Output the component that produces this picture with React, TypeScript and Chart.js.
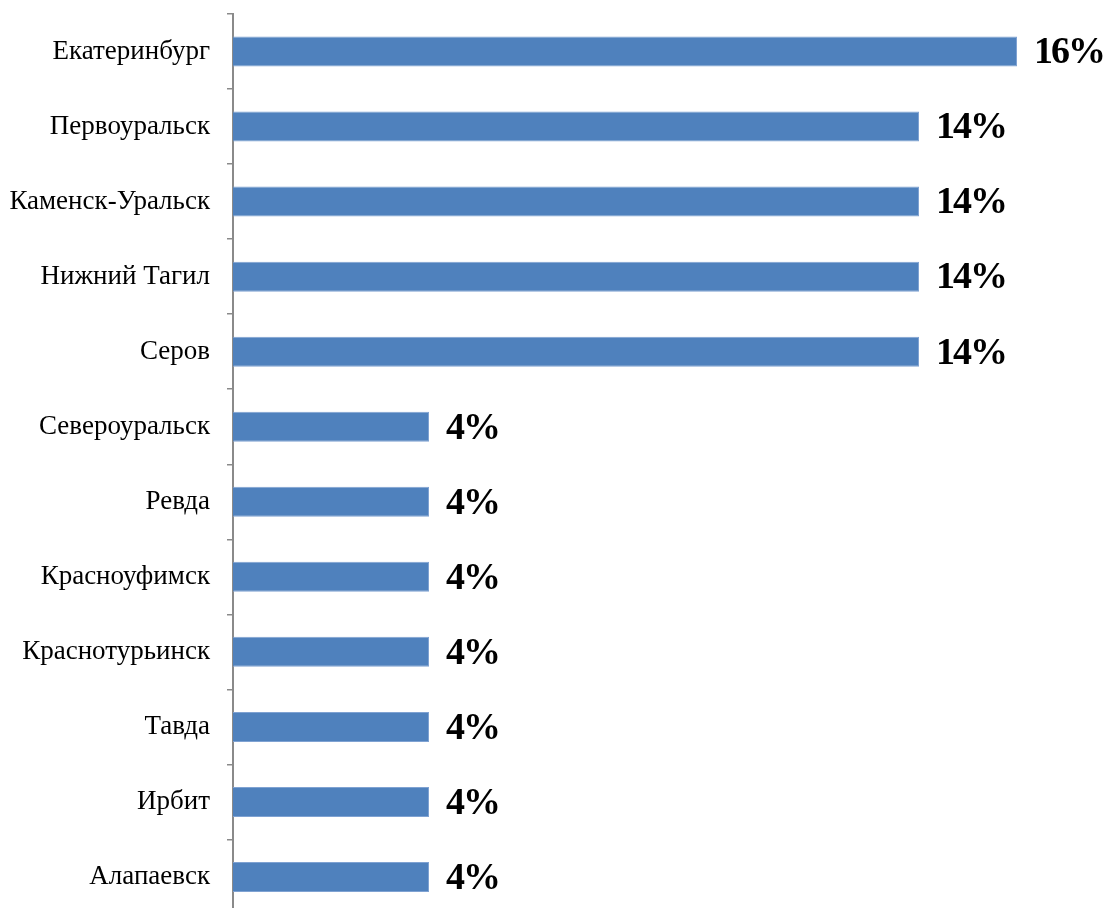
import React, { useEffect, useRef } from "react";
import { Chart, registerables } from "chart.js";

Chart.register(...registerables);

const categories = [
  "Екатеринбург",
  "Первоуральск",
  "Каменск-Уральск",
  "Нижний Тагил",
  "Серов",
  "Североуральск",
  "Ревда",
  "Красноуфимск",
  "Краснотурьинск",
  "Тавда",
  "Ирбит",
  "Алапаевск",
];
const values = [16, 14, 14, 14, 14, 4, 4, 4, 4, 4, 4, 4];

const labelPlugin = {
  id: "barValueLabels",
  afterDatasetsDraw(chart: any) {
    const ctx = chart.ctx;
    const meta = chart.getDatasetMeta(0);
    ctx.save();
    ctx.font = "bold 38px 'Liberation Serif', 'Times New Roman', serif";
    try {
      (ctx as any).letterSpacing = "-2px";
    } catch (e) {}
    ctx.fillStyle = "#000000";
    ctx.textAlign = "left";
    ctx.textBaseline = "middle";
    meta.data.forEach((bar: any, i: number) => {
      ctx.fillText(values[i] + "%", bar.x + 17, bar.y + 2);
    });
    ctx.restore();
  },
};

export default function App() {
  const ref = useRef<HTMLCanvasElement | null>(null);
  useEffect(() => {
    if (!ref.current) return;
    const chart = new Chart(ref.current, {
      type: "bar",
      data: {
        labels: categories,
        datasets: [
          {
            data: values,
            backgroundColor: "#4F81BD",
            borderColor: "#7FA2D2",
            borderWidth: 1,
            categoryPercentage: 1,
            barPercentage: 0.4,
          },
        ],
      },
      options: {
        indexAxis: "y",
        animation: false,
        responsive: false,
        maintainAspectRatio: false,
        layout: { padding: { top: 14, bottom: 5.5, right: 20.5, left: 0 } },
        plugins: {
          legend: { display: false },
          tooltip: { enabled: false },
        },
        scales: {
          x: { display: false, min: 0, max: 17.5 },
          y: {
            afterFit: (scale: any) => {
              scale.width = 233;
              scale.paddingTop = 0;
              scale.paddingBottom = 0;
            },
            grid: {
              offset: true,
              drawOnChartArea: false,
              drawTicks: true,
              tickLength: 6,
              color: "#8a8a8a",
              lineWidth: 1.5,
            },
            border: { display: true, color: "#8a8a8a", width: 2 },
            ticks: {
              padding: 17,
              color: "#000000",
              font: { family: "'Liberation Serif', 'Times New Roman', serif", size: 27 },
            },
          },
        },
      },
      plugins: [labelPlugin],
    });
    return () => chart.destroy();
  }, []);
  return (
    <div style={{ position: "fixed", left: 0, top: 0, width: 1111, height: 908, overflow: "hidden", background: "#fff" }}>
      <canvas ref={ref} width={1111} height={920} style={{ display: "block" }} />
    </div>
  );
}
